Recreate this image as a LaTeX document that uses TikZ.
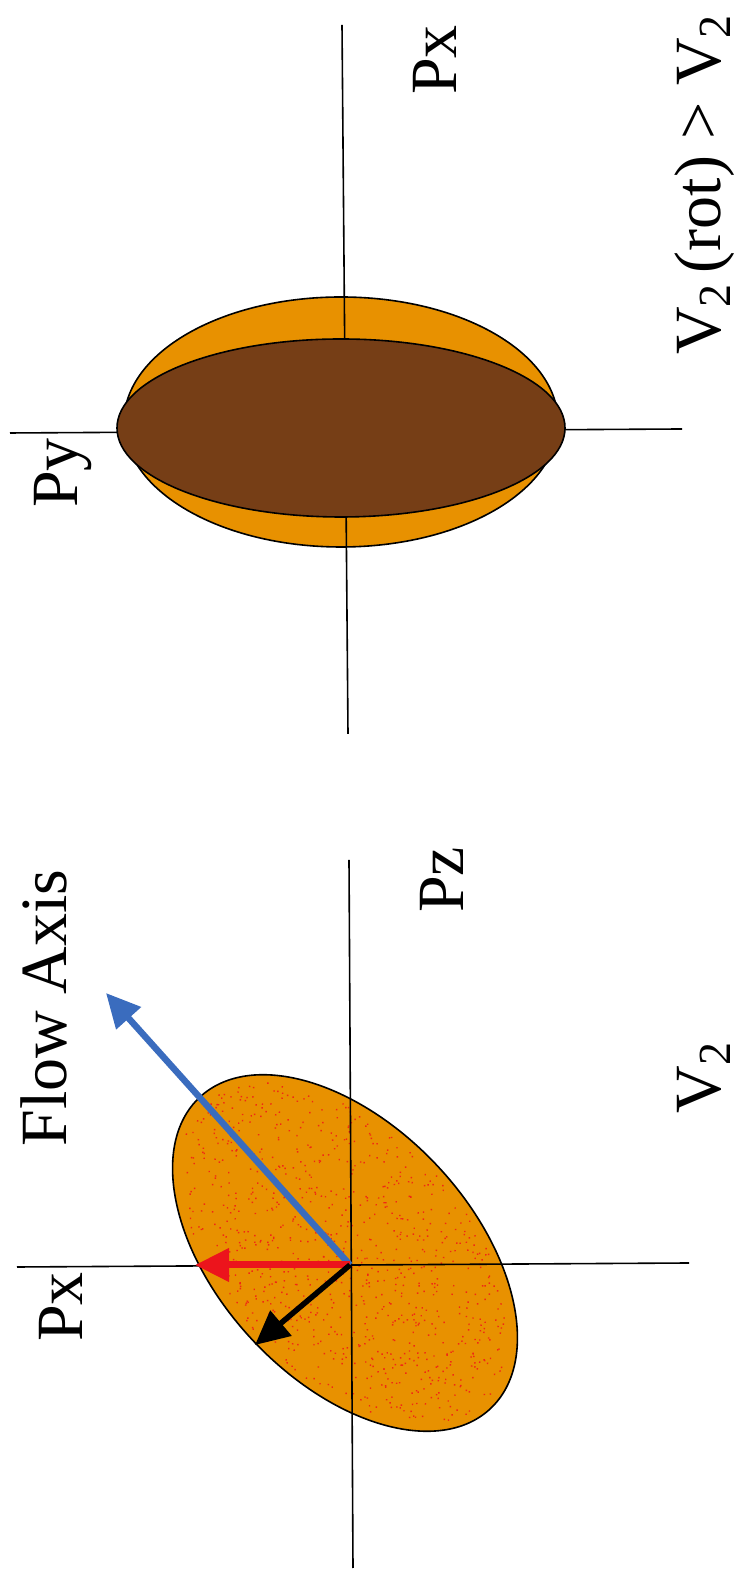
\documentclass[tikz,border=0pt]{standalone}
\usepackage{fontspec}
\setmainfont{Liberation Serif}
\usetikzlibrary{arrows.meta}
\definecolor{ochre}{RGB}{232,145,0}
\definecolor{darkbrown}{RGB}{118,62,22}
\definecolor{flowblue}{RGB}{58,108,190}
\definecolor{vred}{RGB}{236,20,28}
\definecolor{speck}{RGB}{240,40,20}
\newcommand\subtwo{\raisebox{-10pt}{\fontsize{46}{46}\selectfont 2}}
\tikzset{
  axisline/.style={line width=1.6pt, draw=black},
  lbl/.style={font=\fontsize{66}{70}\selectfont, rotate=90, inner sep=0pt, anchor=base},
  shape outline/.style={line width=1.6pt, draw=black},
  vec/.style={line width=6.5pt, -{Triangle[length=34pt,width=32pt]}},
}
\begin{document}
\begin{tikzpicture}[x=1pt,y=1pt]
\useasboundingbox (0,0) rectangle (741,1574);
% ---------------- upper panel ----------------
\coordinate (uT) at (342,1549);
\coordinate (uB) at (348,840);
\coordinate (uL) at (10,1141);
\coordinate (uR) at (682,1145);
\draw[shape outline, fill=ochre] (341,1152) ellipse [x radius=217, y radius=125];
\draw[axisline] (uT) -- (uB);
\draw[axisline] (uL) -- (uR);
\draw[shape outline, fill=darkbrown] (341,1146) ellipse [x radius=224, y radius=89];
\node[lbl] (py) at (77,1101) {Py};
\node[lbl] (pxu) at (456,1514) {Px};
\node[lbl] (vrot) at (720,1389) {V\subtwo\,(rot) > V\subtwo};
% ---------------- lower panel ----------------
\coordinate (lT) at (349,714);
\coordinate (lB) at (353,6);
\coordinate (lL) at (17,307);
\coordinate (lR) at (689,311);
\coordinate (O) at (350,309);
\coordinate (ec) at (345,321);
\draw[shape outline, fill=ochre, rotate around={133:(ec)}] (ec) ellipse [x radius=213, y radius=127];
\begin{scope}[shift={(ec)}, rotate=133]
  \pgfmathsetseed{11}
  \foreach \i in {1,...,900}{
    \pgfmathsetmacro\rr{sqrt(rnd)}
    \pgfmathsetmacro\aa{360*rnd}
    \fill[speck] ({205*\rr*cos(\aa)},{120*\rr*sin(\aa)}) circle (1pt);
  }
\end{scope}
\draw[axisline] (lT) -- (lB);
\draw[axisline] (lL) -- (lR);
\coordinate (blueTip) at (106,581);
\coordinate (redTip) at (195,309);
\coordinate (blackTip) at (255,229);
\draw[vec, color=flowblue] (O) -- (blueTip);
\draw[vec, line width=7pt, color=vred] (O) -- (redTip);
\draw[vec, line width=5.5pt, color=black] (O) -- (blackTip);
\node[lbl] (flow) at (66,566) {Flow Axis};
\node[lbl] (pz) at (463,694) {Pz};
\node[lbl] (v2) at (720,496) {V\subtwo};
\node[lbl] (pxl) at (82,267) {Px};
\end{tikzpicture}
\end{document}
